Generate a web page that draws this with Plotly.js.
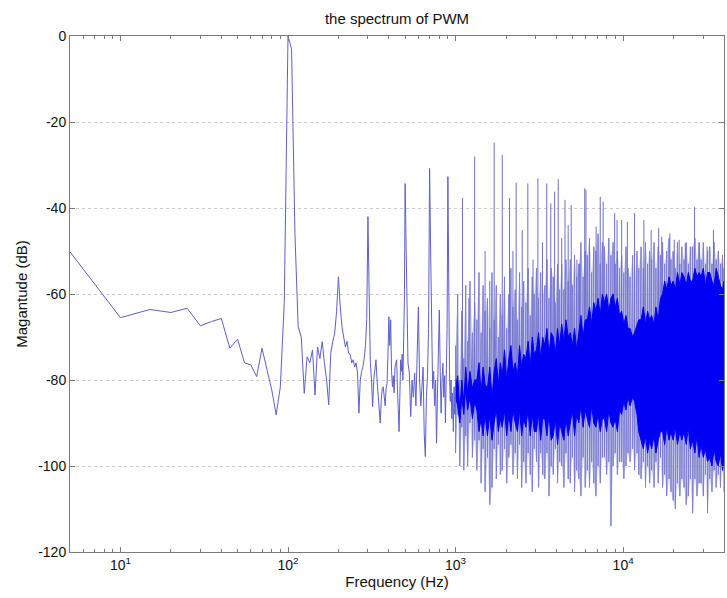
<!DOCTYPE html>
<html>
<head>
<meta charset="utf-8">
<script src="https://cdn.plot.ly/plotly-3.0.1.min.js"></script>
<style>html,body{margin:0;padding:0;background:#fff;}</style>
</head>
<body>
<div id="chart" style="width:727px;height:598px;"></div>
<script>
// ---- low-frequency part of the spectrum (Hz, dB) ----
const lfFreq = [5,10,15,20,25,30,35,40,45,50,55,60,65,70,75,80,85,90,95,100,
  105,110,115,120,125,130,135,140,145,150,155,160,165,170,175,180,185,190,195,200,
  205,210,215,220,225,230,235,240,245,250,255,260,265,270,275,280,285,290,295,300,
  305,310,315,320,325,330,335,340,345,350,355,360,365,370,375,380,385,390,395,400,
  405,410,415,420,425,430,435,440,445,450,455,460,465,470,475,480,485,490,495,
  500,510,520,530,540,550,560,570,580,590,600,610,620,630,640,650,660,670,680,690,
  700,710,720,730,740,750,760,770,780,790,800,810,820,830,840,850,860,870,880,890,
  900,910,920,930,940,950,960,970,980,990,1000];
const lfMag = [-50.2,-65.5,-63.6,-64.3,-63.3,-67.4,-66.4,-65.7,-72.6,-70.5,
  -76,-76.5,-79.2,-72.6,-77.7,-82.3,-88.1,-81.6,-62,0,
  -3,-46,-67.6,-70,-83.1,-74.6,-76,-73,-83.5,-72.3,
  -75,-71.1,-76.1,-80,-85.8,-73.8,-71,-69.1,-64,-56,
  -63,-67.6,-70,-72.3,-71,-73.8,-74,-76,-75.3,-77,
  -76,-78.4,-87.7,-80,-78,-76.9,-75,-72,-66,-42,
  -59.8,-76,-80,-86.2,-80,-77,-75.3,-80,-84,-87,
  -90,-85,-82,-81.6,-84,-86,-82,-80.8,-74,-65.3,
  -72,-66,-78,-81.6,-79,-83,-77,-76,-75.3,-82,
  -88,-92,-84,-75.3,-78,-74,-80,-72,-62,
  -34.3,-55,-76,-78.4,-88.5,-80,-84,-78.4,-86,-74,
  -63,-80,-86,-81.7,-77,-92.4,-97.8,-84,-79,-68,
  -30.8,-50,-73.8,-82,-78,-86,-80,-94.7,-83,-72,
  -63.7,-78,-87.7,-80,-76.1,-84,-79,-90,-82,-68,
  -32.7,-63.7,-78,-85,-80,-89,-83,-92,-81.6,-88,
  -80];

// ---- high-frequency part: per-column envelopes (Hz, dB) ----
const hfFreq = [1000,1030,1060,1090,1120,1150,1180,1220,1260,1300,
  1340,1380,1420,1460,1500,
  1550,1600,1650,1700,1750,1800,1850,
  1900,1960,2020,2080,2140,2200,
  2270,2340,2410,2480,2550,
  2630,2710,2790,2870,2950,
  3040,3130,3220,3310,
  3410,3510,3610,3720,
  3830,3940,4060,4180,
  4300,4430,4560,4700,
  4840,4980,5130,5280,
  5440,5600,5770,5940,
  6120,6300,6490,6680,
  6880,7090,7300,7520,
  7740,7970,8210,8460,
  8710,8970,9240,9520,
  9800,10100,10400,10700,
  11000,11400,11700,12100,12400,
  12800,13200,13600,14000,14400,
  14800,15300,15700,16200,16700,
  17200,17700,18200,18800,19300,
  19900,20500,21100,21800,22400,
  23100,23800,24500,25200,
  26000,26800,27600,28400,
  29200,30100,31000,31900,
  32900,33900,34900,35900,
  37000,38100,39200,40000];
const hfTop = [-72,-60,-80,-64,-75,-58,-71,-57,-69,-62,
  -66,-55,-69,-58,-64,
  -61,-68,-55,-66,-58,-70,-60,
  -65,-56,-68,-60,-54,-63,
  -59,-66,-55,-63,-57,
  -62,-54,-65,-56,-60,
  -54,-61,-55,-60,
  -58,-52,-61,-54,
  -56,-62,-53,-59,
  -53,-59,-52,-57,
  -52,-58,-51,-56,
  -53,-48,-56,-50,
  -51,-47,-55,-49,
  -50,-46,-53,-48,
  -49,-53,-47,-51,
  -48,-53,-50,-54,
  -51,-55,-49,-54,
  -56,-51,-57,-50,-54,
  -49,-54,-48,-53,-50,
  -52,-48,-54,-49,-51,
  -48,-53,-50,-47,-52,
  -50,-54,-48,-53,-49,
  -52,-48,-53,-49,
  -49,-47,-52,-48,
  -52,-48,-53,-50,
  -49,-53,-48,-52,
  -50,-53,-51,-54];
const hfBot = [-97,-88,-100,-91,-101,-93,-100,-90,-98,-94,
  -101,-94,-104,-96,-106,
  -98,-109,-105,-96,-103,-95,-102,
  -101,-96,-104,-98,-95,-102,
  -97,-103,-95,-105,-99,
  -104,-97,-102,-106,-96,
  -99,-105,-97,-102,
  -103,-97,-107,-100,
  -102,-96,-104,-99,
  -100,-105,-97,-103,
  -104,-98,-106,-101,
  -103,-107,-98,-105,
  -101,-105,-99,-104,
  -107,-100,-104,-98,
  -98,-102,-99,-114,
  -100,-97,-102,-99,
  -99,-103,-100,-97,
  -99,-96,-101,-97,-102,
  -103,-99,-105,-100,-104,
  -101,-105,-99,-104,-98,
  -105,-102,-107,-103,-106,
  -108,-110,-104,-107,-103,
  -105,-109,-107,-103,
  -111,-103,-107,-104,
  -104,-107,-102,-111,
  -103,-106,-101,-105,
  -102,-105,-101,-106];
const coreTop = [-82,-79,-87,-80,-85,-77,-83,-78,-82,-80,
  -80,-76,-83,-77,-81,
  -82,-77,-84,-78,-75,-81,-76,
  -79,-73,-80,-75,-72,-78,
  -76,-79,-72,-77,-74,
  -75,-71,-77,-70,-74,
  -73,-69,-75,-70,
  -72,-68,-74,-69,
  -70,-74,-68,-72,
  -67,-71,-66,-70,
  -69,-72,-68,-73,
  -69,-65,-70,-66,
  -66,-63,-67,-62,
  -64,-61,-65,-60,
  -62,-60,-64,-61,
  -60,-63,-61,-65,
  -64,-67,-65,-68,
  -68,-70,-69,-67,-66,
  -66,-63,-67,-64,-66,
  -65,-67,-63,-66,-61,
  -60,-57,-59,-56,-58,
  -57,-59,-55,-58,-55,
  -56,-58,-55,-57,
  -57,-54,-56,-55,
  -56,-54,-58,-55,
  -55,-57,-58,-54,
  -56,-58,-59,-57];
const coreBot = [-84,-86,-90,-84,-88,-82,-87,-84,-89,-85,
  -87,-92,-89,-93,-88,
  -93,-88,-94,-90,-87,-92,-89,
  -91,-87,-93,-88,-92,-87,
  -90,-92,-87,-93,-89,
  -91,-87,-93,-88,-92,
  -92,-88,-94,-89,
  -89,-93,-88,-94,
  -93,-89,-95,-90,
  -92,-94,-89,-93,
  -90,-87,-93,-88,
  -90,-86,-91,-87,
  -89,-91,-86,-90,
  -91,-88,-92,-89,
  -89,-92,-87,-90,
  -91,-89,-92,-87,
  -88,-85,-87,-84,
  -86,-84,-85,-88,-92,
  -94,-96,-93,-97,-94,
  -96,-93,-97,-94,-92,
  -92,-95,-91,-94,-92,
  -94,-91,-95,-92,-94,
  -92,-95,-91,-96,
  -94,-97,-93,-98,
  -95,-98,-96,-99,
  -98,-100,-96,-99,
  -100,-97,-101,-99];

// ---- harmonic spikes above the noise (Hz, dB) ----
const spikeFreq = [1100,1200,1300,1500,1600,1700,1900,2100,2200,2300,
  2500,2700,2900,3100,3300,3500,3700,3900,4100,4300,
  4500,4700,4900,5300,5500,5900,6000,6300,6900,7300,
  7600,8900,9200,9800,10600,11700,13300,14700,16300,17000,
  19000,20200,21600,23500,26700,28500,31700,34600,39000];
const spikeTop = [-37.7,-61,-28,-50,-57,-24.8,-27.7,-37.7,-50,-34.1,
  -45.1,-34.3,-52,-33.1,-48,-34.3,-38.9,-36.2,-33.3,-47,
  -38.1,-44,-39.3,-52,-52.9,-35.4,-35.8,-47.4,-44.3,-37.4,
  -38.5,-41.2,-42.8,-42.8,-43.2,-41.2,-42.8,-45.1,-44.7,-46.7,
  -45.9,-47.4,-47.4,-48.2,-39.8,-48.2,-49,-45.1,-52.9];
const spikeBase = [-82,-84,-80,-85,-88,-82,-84,-80,-86,-79,
  -83,-78,-85,-77,-82,-76,-80,-75,-78,-74,
  -77,-73,-76,-75,-72,-70,-71,-68,-66,-65,
  -64,-63,-66,-67,-68,-70,-66,-66,-64,-62,
  -60,-58,-58,-57,-57,-57,-57,-56,-57];

// ---- axis ticks ----
const xTickVals = [10, 100, 1000, 10000];
const xTickText = ['10<sup>1</sup>', '10<sup>2</sup>', '10<sup>3</sup>', '10<sup>4</sup>'];
const yTickVals = [-120, -100, -80, -60, -40, -20, 0];
const yTickText = ['-120', '-100', '-80', '-60', '-40', '-20', '0'];

// minor tick positions (2..9 x 10^k) for the log axis
const minorVals = [];
[1, 10, 100, 1000, 10000].forEach(function (d) {
  for (let m = 2; m <= 9; m++) { if (m * d >= 5 && m * d <= 40000) minorVals.push(m * d); }
});

// light zig-zag of the noise envelope, built from the column arrays
const zx = [], zy = [];
for (let i = 0; i < hfFreq.length; i++) {
  zx.push(hfFreq[i], hfFreq[i]);
  zy.push(hfTop[i], hfBot[i]);
}
// pale wash between envelope top and bottom
const ex = hfFreq.concat(hfFreq.slice().reverse());
const ey = hfTop.concat(hfBot.slice().reverse());
// dense core polygon
const cx = hfFreq.concat(hfFreq.slice().reverse());
const cy = coreTop.concat(coreBot.slice().reverse());
// spikes as vertical segments
const sx = [], sy = [];
for (let i = 0; i < spikeFreq.length; i++) {
  sx.push(spikeFreq[i], spikeFreq[i], null);
  sy.push(spikeBase[i], spikeTop[i], null);
}

const traces = [
  {x: ex, y: ey, type: 'scatter', mode: 'none', fill: 'toself', fillcolor: 'rgba(150,150,220,0.38)', hoverinfo: 'skip'},
  {x: zx, y: zy, type: 'scatter', mode: 'lines', line: {color: 'rgb(125,125,210)', width: 1}, hoverinfo: 'skip'},
  {x: sx, y: sy, type: 'scatter', mode: 'lines', line: {color: 'rgb(110,110,208)', width: 1}, hoverinfo: 'skip'},
  {x: cx, y: cy, type: 'scatter', mode: 'lines', fill: 'toself', fillcolor: 'rgb(0,0,245)', line: {color: 'rgb(0,0,245)', width: 1}, hoverinfo: 'skip'},
  {x: lfFreq, y: lfMag, type: 'scatter', mode: 'lines', line: {color: 'rgb(95,95,205)', width: 1}, hoverinfo: 'skip'}
];

const axisColor = '#7a7a7a';
const layout = {
  width: 727, height: 598,
  margin: {l: 70, r: 3, t: 36, b: 46},
  paper_bgcolor: '#ffffff', plot_bgcolor: '#ffffff',
  showlegend: false,
  font: {family: '"Liberation Sans", Arial, sans-serif', size: 14, color: '#111'},
  title: {text: 'the spectrum of PWM', font: {size: 15, color: '#111'}, x: 0.5, xref: 'paper', xanchor: 'center', y: 1 - 19 / 598, yref: 'container', yanchor: 'middle'},
  xaxis: {
    type: 'log', range: [Math.log10(5), Math.log10(40000)],
    tickmode: 'array', tickvals: xTickVals, ticktext: xTickText,
    ticks: 'inside', ticklen: 5, tickcolor: axisColor, tickwidth: 1,
    showline: true, linecolor: axisColor, linewidth: 1, mirror: 'ticks',
    showgrid: false, zeroline: false,
    minor: {tickmode: 'array', tickvals: minorVals, ticks: 'inside', ticklen: 3, tickcolor: axisColor, showgrid: false},
    tickfont: {size: 14, color: '#111'},
    title: {text: 'Frequency (Hz)', font: {size: 15, color: '#111'}, standoff: 4},
    automargin: false
  },
  yaxis: {
    range: [-120, 0], tickmode: 'array', tickvals: yTickVals, ticktext: yTickText,
    ticks: 'inside', ticklen: 5, tickcolor: axisColor, tickwidth: 1,
    showline: true, linecolor: axisColor, linewidth: 1, mirror: 'ticks',
    showgrid: true, gridcolor: '#cccccc', griddash: 'dot', gridwidth: 1,
    zeroline: false,
    tickfont: {size: 14, color: '#111'},
    title: {text: 'Magantude (dB)', font: {size: 15, color: '#111'}, standoff: 6},
    automargin: false
  }
};

Plotly.newPlot('chart', traces, layout, {displayModeBar: false, staticPlot: true});
</script>
</body>
</html>
